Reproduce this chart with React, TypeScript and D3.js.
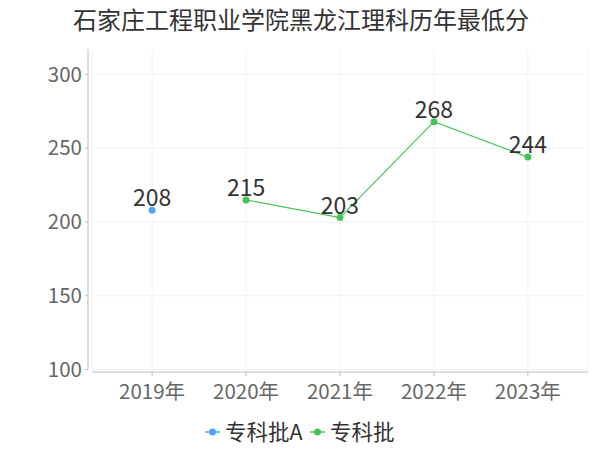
import React from "react";
import * as d3 from "d3";

const title = "石家庄工程职业学院黑龙江理科历年最低分";
const categories = ["2019年", "2020年", "2021年", "2022年", "2023年"];
const seriesNames = ["专科批A", "专科批"];
const seriesA: (number | null)[] = [208, null, null, null, null];
const seriesB: (number | null)[] = [null, 215, 203, 268, 244];
const yTicks = [100, 150, 200, 250, 300];
const colors = ["#4ea6f5", "#45c35a"];

const W = 600;
const H = 450;
const plotLeft = 92;
const plotRight = 588;
const plotTop = 49;
const yAxisX = 88;
const xAxisY = 372;

export default function App() {
  const x = d3.scalePoint<string>().domain(categories).range([plotLeft, plotRight]).padding(0.64);
  const y = d3.scaleLinear().domain([100, 300]).range([369.5, 74.5]);
  const font = "'Noto Sans CJK SC', 'Noto Sans', sans-serif";
  const allSeries = [seriesA, seriesB];

  const line = d3
    .line<number | null>()
    .defined((d) => d != null)
    .x((_, i) => x(categories[i]) as number)
    .y((d) => y(d as number));

  return (
    <svg width={W} height={H} style={{ position: "absolute", left: 0, top: 0, background: "#fff" }} fontFamily={font}>
      <text x={301} y={29} textAnchor="middle" fontSize={24} fill="#333">
        {title}
      </text>
      {/* grid */}
      {yTicks.map((t) => (
        <line key={"gy" + t} x1={plotLeft} x2={plotRight} y1={y(t)} y2={y(t)} stroke="#f2f2f2" strokeWidth={1} />
      ))}
      {[plotLeft, ...categories.map((c) => x(c) as number), plotRight].map((px, i) => (
        <line key={"gx" + i} x1={px} x2={px} y1={plotTop} y2={xAxisY} stroke="#f2f2f2" strokeWidth={1} />
      ))}
      {/* y axis */}
      <line x1={yAxisX} x2={yAxisX} y1={plotTop} y2={y(100)} stroke="#bdbdbd" strokeWidth={1} />
      {yTicks.map((t) => (
        <g key={"yt" + t}>
          <line x1={yAxisX - 3} x2={yAxisX} y1={y(t)} y2={y(t)} stroke="#bdbdbd" />
          <text x={82} y={y(t) + 7} textAnchor="end" fontSize={20.5} fill="#666">
            {t}
          </text>
        </g>
      ))}
      {/* x axis */}
      <line x1={plotLeft} x2={plotRight} y1={xAxisY} y2={xAxisY} stroke="#bdbdbd" strokeWidth={1} />
      {categories.map((c) => (
        <g key={"xt" + c}>
          <line x1={x(c)} x2={x(c)} y1={xAxisY} y2={xAxisY + 4} stroke="#bdbdbd" />
          <text x={x(c)} y={399} textAnchor="middle" fontSize={20.5} fill="#666">
            {c}
          </text>
        </g>
      ))}
      {/* series */}
      {allSeries.map((s, si) => (
        <g key={"s" + si}>
          <path d={line(s) || ""} fill="none" stroke={colors[si]} strokeWidth={1.2} />
          {s.map((v, i) =>
            v == null ? null : (
              <g key={i}>
                <circle cx={x(categories[i])} cy={y(v)} r={3.5} fill={colors[si]} />
                <text x={x(categories[i])} y={y(v) - 4} textAnchor="middle" fontSize={23} fill="#333">
                  {v}
                </text>
              </g>
            )
          )}
        </g>
      ))}
      {/* legend */}
      {(() => {
        const items = [
          { name: seriesNames[0], x0: 205 },
          { name: seriesNames[1], x0: 310 },
        ];
        return items.map((it, i) => (
          <g key={"lg" + i}>
            <line x1={it.x0} x2={it.x0 + 15} y1={432} y2={432} stroke={colors[i]} strokeWidth={1.5} />
            <circle cx={it.x0 + 7.5} cy={432} r={3.5} fill={colors[i]} />
            <text x={it.x0 + 20} y={440} fontSize={21.5} fill="#333">
              {it.name}
            </text>
          </g>
        ));
      })()}
    </svg>
  );
}
